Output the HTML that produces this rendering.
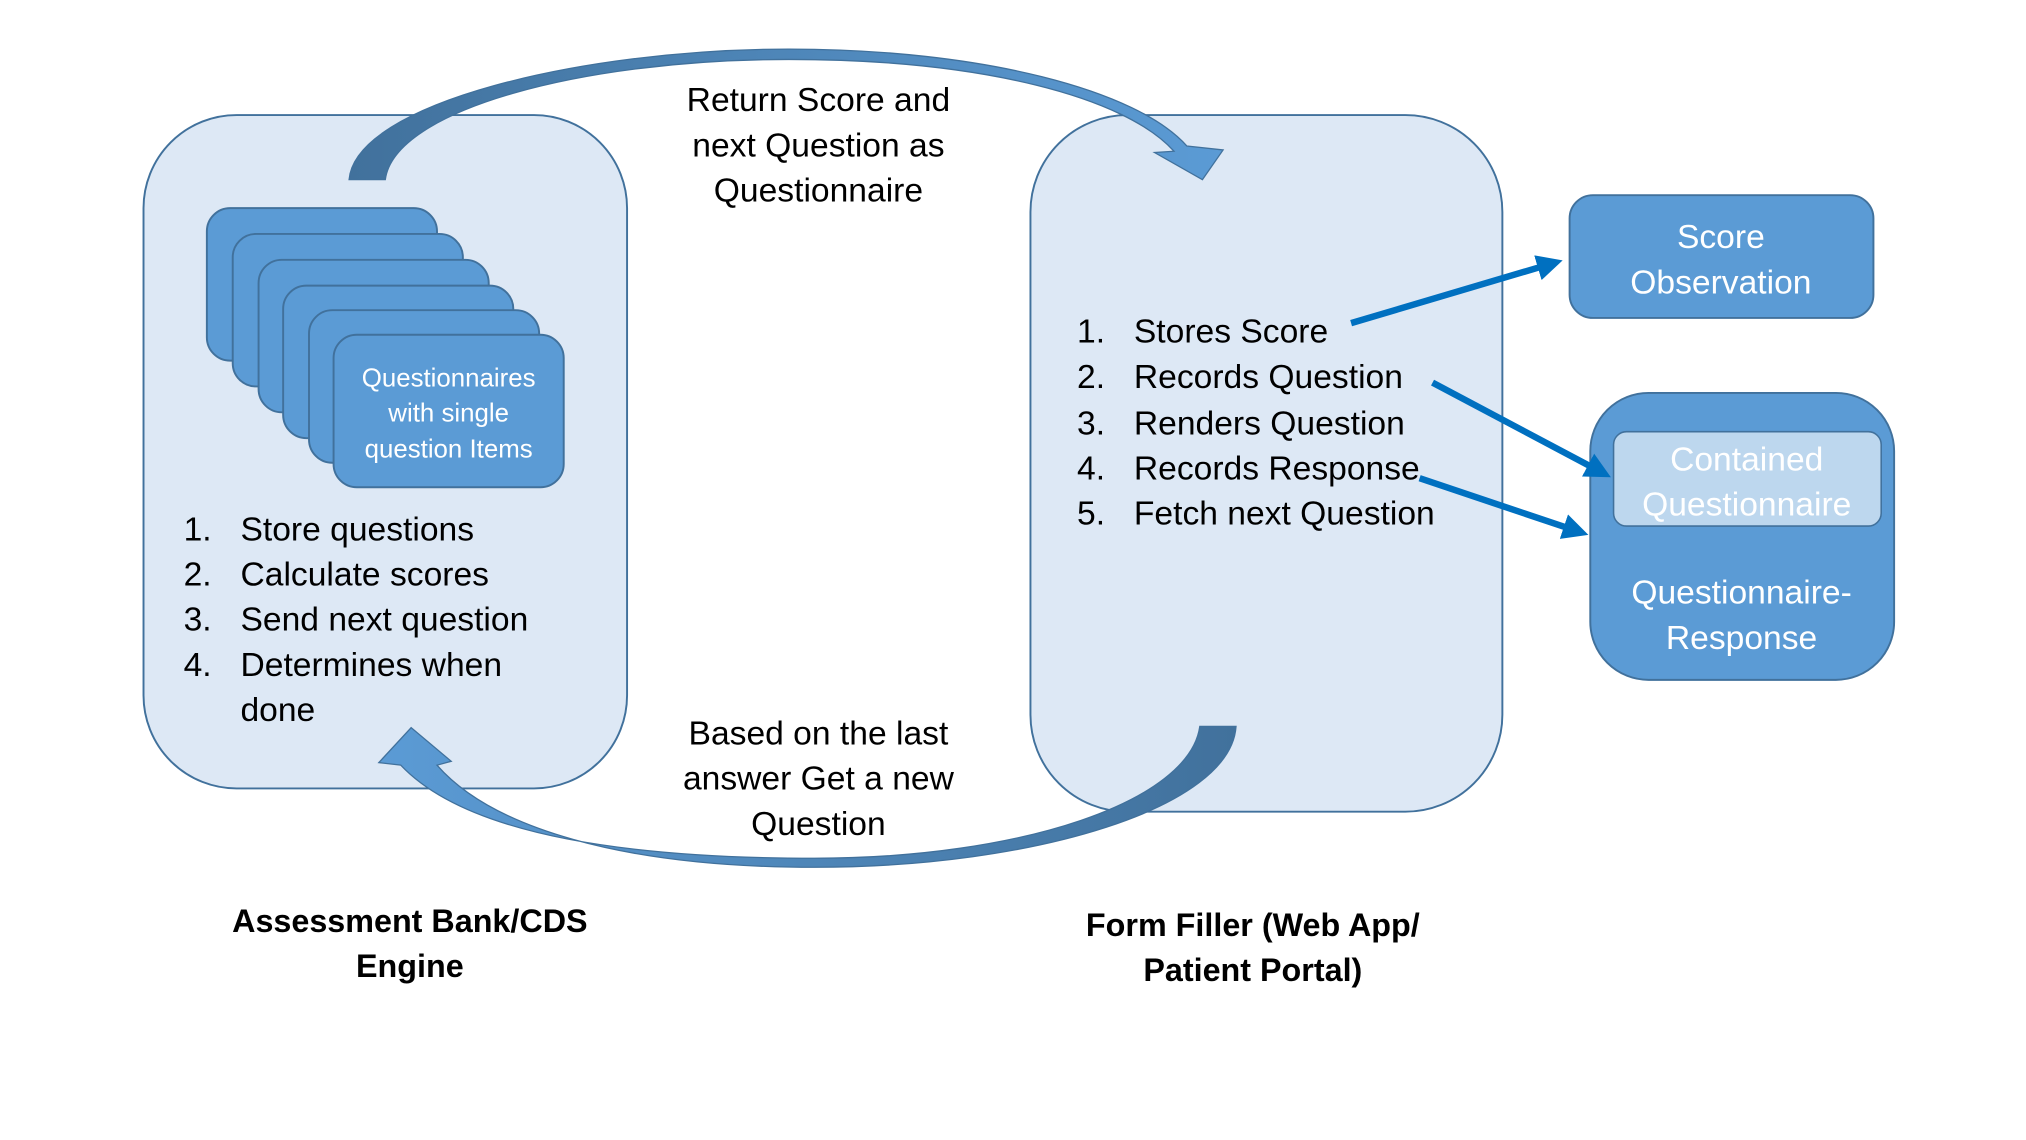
<!DOCTYPE html>
<html><head><meta charset="utf-8"><style>
html,body{margin:0;padding:0;background:#fff;}
svg{display:block;}
text{font-family:"Liberation Sans Narrow","Liberation Sans",sans-serif;}
</style></head><body>
<svg width="2026" height="1140" viewBox="0 0 1567 882" preserveAspectRatio="none" xmlns="http://www.w3.org/2000/svg">
<defs>
<linearGradient id="g1" x1="0" y1="0" x2="1" y2="0"><stop offset="0" stop-color="#41719c"/><stop offset="1" stop-color="#5b9bd5"/></linearGradient>
<linearGradient id="g2" x1="1" y1="0" x2="0" y2="0"><stop offset="0" stop-color="#41719c"/><stop offset="1" stop-color="#5b9bd5"/></linearGradient>
<marker id="ah" markerWidth="4" markerHeight="4" refX="2.2" refY="2" orient="auto" markerUnits="strokeWidth"><path d="M0,0 L4,2 L0,4 Z" fill="#0070c0"/></marker>
</defs>
<rect x="111" y="89" width="374" height="521" rx="72" fill="#dde8f5" stroke="#41719c" stroke-width="1.5"/>
<rect x="797" y="89" width="365" height="539" rx="75" fill="#dde8f5" stroke="#41719c" stroke-width="1.5"/>
<g fill="#5b9bd5" stroke="#41719c" stroke-width="1.5">
<rect x="160" y="161" width="178" height="118" rx="18"/>
<rect x="180" y="181" width="178" height="118" rx="18"/>
<rect x="200" y="201" width="178" height="118" rx="18"/>
<rect x="219" y="221" width="178" height="118" rx="18"/>
<rect x="239" y="240" width="178" height="118" rx="18"/>
<rect x="258" y="259" width="178" height="118" rx="18"/>
</g>
<g fill="#fff" font-size="20" text-anchor="middle">
<text x="347" y="299">Questionnaires</text>
<text x="347" y="326">with single</text>
<text x="347" y="354">question Items</text>
</g>
<g font-size="26" fill="#000">
<text x="142" y="418">1.</text><text x="186" y="418">Store questions</text>
<text x="142" y="453">2.</text><text x="186" y="453">Calculate scores</text>
<text x="142" y="488">3.</text><text x="186" y="488">Send next question</text>
<text x="142" y="523">4.</text><text x="186" y="523">Determines when</text>
<text x="186" y="558">done</text>
<text x="833" y="265">1.</text><text x="877" y="265">Stores Score</text>
<text x="833" y="300">2.</text><text x="877" y="300">Records  Question</text>
<text x="833" y="336">3.</text><text x="877" y="336">Renders  Question</text>
<text x="833" y="371">4.</text><text x="877" y="371">Records Response</text>
<text x="833" y="406">5.</text><text x="877" y="406">Fetch next Question</text>
</g>
<g font-size="26" fill="#000" text-anchor="middle">
<text x="633" y="86">Return Score and</text>
<text x="633" y="121">next Question as</text>
<text x="633" y="156">Questionnaire</text>
<text x="633" y="576">Based on the last</text>
<text x="633" y="611">answer Get a new</text>
<text x="633" y="646">Question</text>
</g>
<g font-size="25" fill="#000" text-anchor="middle" font-weight="bold">
<text x="317" y="721">Assessment Bank/CDS</text>
<text x="317" y="756">Engine</text>
<text x="969" y="724">Form Filler (Web App/</text>
<text x="969" y="759">Patient Portal)</text>
</g>
<path d="M270,139 C275,80 450,38 610,38 C760,38 880,70 918,113 L946,116 L930,139 L893,118 L908,117 C870,75 760,46 610,46 C450,46 305,85 298,139 Z" fill="url(#g1)" stroke="#41719c" stroke-width="1"/>
<path d="M928,562 L956,562 C952,625 800,671 630,671 C480,671 380,640 338,592 L349,589 L318,563 L293,590 L310,592 C360,645 480,664 630,664 C790,664 920,620 928,562 Z" fill="url(#g2)" stroke="#41719c" stroke-width="1"/>
<rect x="1214" y="151" width="235" height="95" rx="18" fill="#5b9bd5" stroke="#41719c" stroke-width="1.5"/>
<g fill="#fff" font-size="26" text-anchor="middle">
<text x="1331" y="192">Score</text><text x="1331" y="227">Observation</text>
</g>
<rect x="1230" y="304" width="235" height="222" rx="45" fill="#5b9bd5" stroke="#41719c" stroke-width="1.5"/>
<rect x="1248" y="334" width="207" height="73" rx="10" fill="#bdd7ee" stroke="#41719c" stroke-width="1.2"/>
<g fill="#fff" font-size="26" text-anchor="middle">
<text x="1351" y="364">Contained</text><text x="1351" y="399">Questionnaire</text>
<text x="1347" y="467">Questionnaire-</text><text x="1347" y="502">Response</text>
</g>
<g stroke="#0070c0" stroke-width="5" fill="none">
<line x1="1045" y1="250" x2="1200" y2="204" marker-end="url(#ah)"/>
<line x1="1108" y1="296" x2="1238" y2="365" marker-end="url(#ah)"/>
<line x1="1098" y1="370" x2="1220" y2="411" marker-end="url(#ah)"/>
</g>
</svg>
</body></html>
